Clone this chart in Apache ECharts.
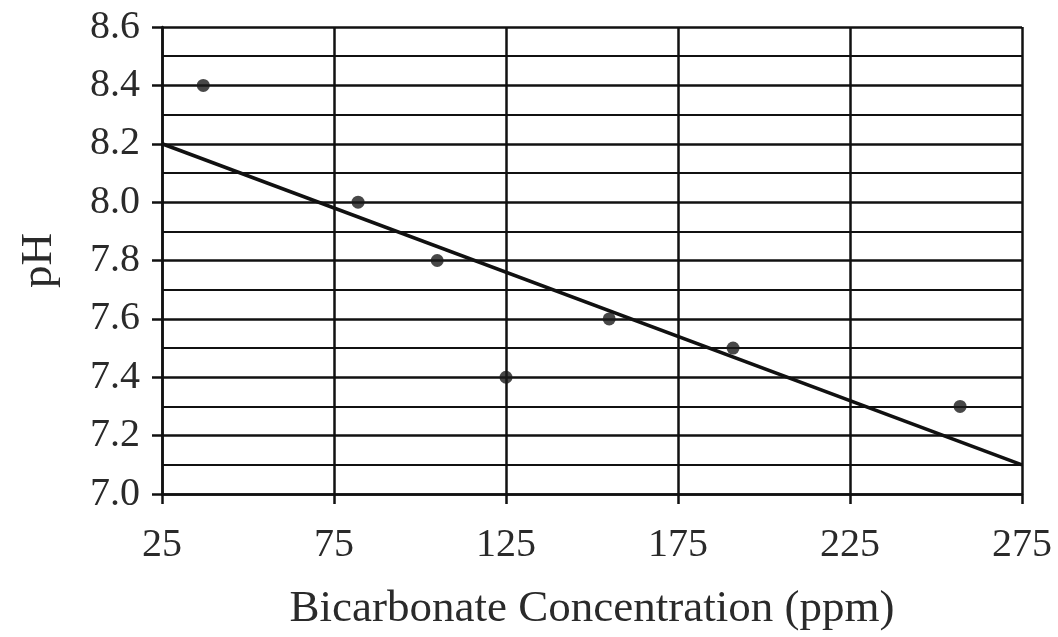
<!DOCTYPE html>
<html>
<head>
<meta charset="utf-8">
<script src="https://cdn.jsdelivr.net/npm/echarts@6/dist/echarts.min.js"></script>
<style>html,body{margin:0;padding:0;background:#fff;}#c{width:1058px;height:637px;}</style>
</head>
<body>
<div id="c"></div>
<script>
const xTicks = [25, 75, 125, 175, 225, 275];
const yTicks = [7.0, 7.2, 7.4, 7.6, 7.8, 8.0, 8.2, 8.4, 8.6];
const bicarbonate = [37, 82, 105, 125, 155, 191, 257];
const ph = [8.4, 8.0, 7.8, 7.4, 7.6, 7.5, 7.3];
const fitX = [25, 275];
const fitY = [8.2, 7.1];

const font = '"Liberation Serif", "DejaVu Serif", serif';
const chart = echarts.init(document.getElementById('c'));
chart.setOption({
  animation: false,
  backgroundColor: '#fff',
  grid: { left: 162, right: 36, top: 27, bottom: 140 },
  xAxis: {
    type: 'value', min: xTicks[0], max: xTicks[xTicks.length - 1], interval: 50,
    name: 'Bicarbonate Concentration (ppm)', nameLocation: 'middle', nameGap: 93,
    nameTextStyle: { fontFamily: font, fontSize: 45, color: '#2a2a2a' },
    axisLine: { lineStyle: { color: '#111', width: 2.5 } },
    axisTick: { show: true, length: 10, lineStyle: { color: '#111', width: 2.5 } },
    axisLabel: { fontFamily: font, fontSize: 40, color: '#2a2a2a', margin: 31 },
    splitLine: { show: true, lineStyle: { color: '#111', width: 2.5 } }
  },
  yAxis: {
    type: 'value', min: yTicks[0], max: yTicks[yTicks.length - 1], interval: 0.2,
    name: 'pH', nameLocation: 'middle', nameGap: 100, nameRotate: 90,
    nameTextStyle: { fontFamily: font, fontSize: 45, color: '#2a2a2a' },
    axisLine: { show: true, lineStyle: { color: '#111', width: 2.5 } },
    axisTick: { show: true, length: 10, lineStyle: { color: '#111', width: 2.5 } },
    axisLabel: { fontFamily: font, fontSize: 40, color: '#2a2a2a', margin: 22,
      formatter: v => v.toFixed(1) },
    splitLine: { show: true, lineStyle: { color: '#111', width: 2.5 } },
    minorTick: { show: false, splitNumber: 2 },
    minorSplitLine: { show: true, lineStyle: { color: '#111', width: 2 } }
  },
  series: [
    {
      type: 'line', data: fitX.map((x, i) => [x, fitY[i]]),
      symbol: 'none', lineStyle: { color: '#111', width: 3.5 }, z: 3
    },
    {
      type: 'scatter', data: bicarbonate.map((x, i) => [x, ph[i]]),
      symbolSize: 13, itemStyle: { color: '#1a1a1a' }, z: 4
    }
  ]
});
</script>
</body>
</html>
